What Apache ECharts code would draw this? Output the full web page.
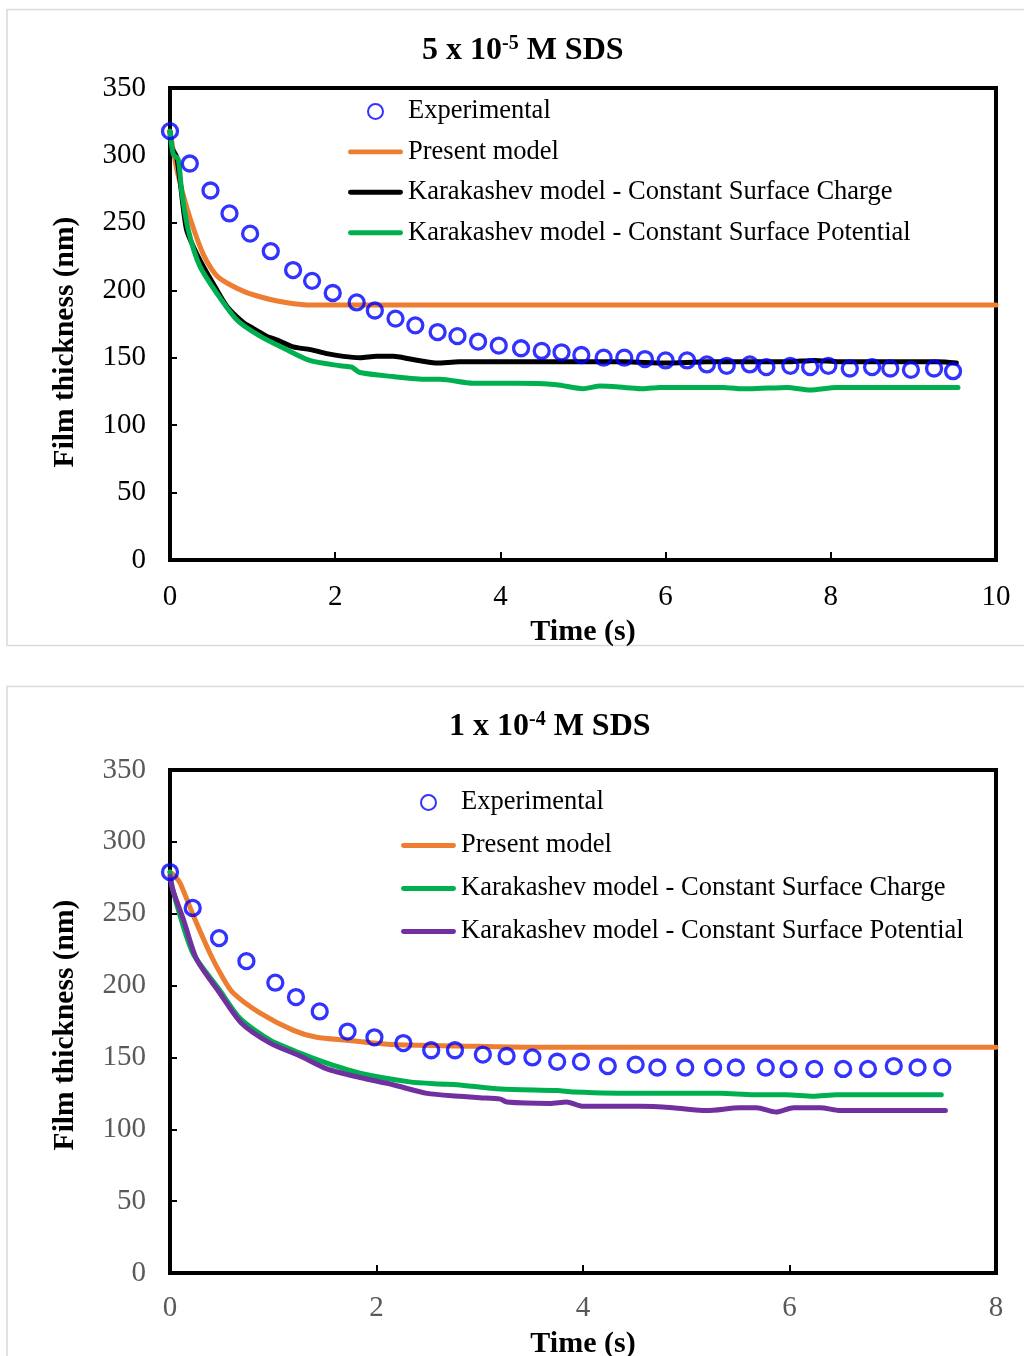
<!DOCTYPE html>
<html>
<head>
<meta charset="utf-8">
<script src="https://cdn.jsdelivr.net/npm/echarts@6/dist/echarts.min.js"></script>
<style>
  html, body { margin: 0; padding: 0; background: #fff; }
  #c1 { position: absolute; left: 0; top: 0; width: 1024px; height: 665px; }
  #c2 { position: absolute; left: 0; top: 665px; width: 1024px; height: 691px; }
</style>
</head>
<body>
<div id="c1"></div>
<div id="c2"></div>
<script>
// ---- 5 x 10^-5 M SDS ----
const expTimeA = [0,0.24,0.49,0.72,0.97,1.22,1.49,1.72,1.97,2.26,2.48,2.73,2.97,3.24,3.48,3.73,3.98,4.25,4.5,4.74,4.98,5.25,5.5,5.75,6.0,6.26,6.5,6.74,7.02,7.22,7.51,7.75,7.97,8.23,8.5,8.72,8.97,9.25,9.48];
const expThickA = [318,294,274,257,242,229,215,207,198,191,185,179,174,169,166,162,159,157,155,154,152,150,150,149,148,148,145,144,145,143,144,143,144,142,143,142,141,142,140];

const presTimeA = [0,0.05,0.1,0.2,0.3,0.4,0.5,0.58,0.7,0.9,1.1,1.3,1.5,1.7,2,4,6,8,10];
const presThickA = [318,300,285,262,243,227,216,210,205,199,195,192,190,189,189,189,189,189,189];

const chargeTimeA = [0,0.02,0.08,0.12,0.2,0.3,0.4,0.55,0.69,0.89,1.0,1.17,1.3,1.49,1.7,1.9,2.1,2.3,2.5,2.7,2.91,3.1,3.23,3.5,3.8,4.2,4.6,5.0,5.5,6.0,6.5,7.0,7.5,7.8,8.1,8.5,9.0,9.3,9.52];
const chargeThickA = [318,306,299,282,245,230,218,202,188,176,172,166,163,158,156,153,151,150,151,151,149,147,146,147,147,147,147,147,147,146,147,147,147,148,147,147,147,147,146];

const potTimeA = [0,0.04,0.1,0.14,0.22,0.36,0.565,0.81,1.09,1.41,1.69,2.06,2.2,2.3,2.7,3.11,3.27,3.67,4.2,4.68,5.0,5.21,5.5,5.73,5.93,6.3,6.7,6.9,7.02,7.47,7.75,8.07,8.68,9.54];
const potThickA = [318,301,297,274,245,218,198,178,166,156,148,144,143,139,136,134,134,131,131,130,127,129,128,127,128,128,128,127,127,128,126,128,128,128];

// ---- 1 x 10^-4 M SDS ----
const expTimeB = [0,0.22,0.475,0.74,1.02,1.22,1.45,1.72,1.98,2.26,2.53,2.76,3.03,3.26,3.51,3.75,3.98,4.24,4.51,4.72,4.99,5.26,5.48,5.77,5.99,6.24,6.52,6.76,7.01,7.24,7.48];
const expThickB = [279,254,233,217,202,192,182,168,164,160,155,155,152,151,150,147,147,144,145,143,143,143,143,143,142,142,142,142,144,143,143];

const presTimeB = [0,0.05,0.1,0.23,0.39,0.5,0.61,0.87,1.19,1.42,1.71,2.16,2.8,3.5,5,8];
const presThickB = [279,276,271,248,222,207,195,181,169,164,162,159,158,157,157,157];

const chargeTimeB = [0,0.02,0.1,0.226,0.48,0.68,0.97,1.26,1.52,1.84,2.32,2.61,2.78,3.2,3.75,3.91,4.55,5.33,5.65,5.97,6.23,6.46,7.47];
const chargeThickB = [279,269,248,222,197,177,162,153,146,139,133,131.5,131,128,127,126,125,125,124,124,123,124,124];

const potTimeB = [0,0.03,0.13,0.26,0.48,0.69,0.97,1.26,1.52,1.84,2.16,2.49,2.81,3.0,3.2,3.26,3.68,3.84,4.0,4.55,4.87,5.2,5.52,5.68,5.87,6.04,6.3,6.49,6.88,7.51];
const potThickB = [276,266,246,218,195,174,160,151,142,136,131,125,123,122,121,119,118,119,116,116,115,113,115,115,112,115,115,113,113,113];

const yTicks = [0, 50, 100, 150, 200, 250, 300, 350];
const legendNames = ['Experimental', 'Present model', 'Karakashev model - Constant Surface Charge', 'Karakashev model - Constant Surface Potential'];

const SERIF = "'Liberation Serif', 'Times New Roman', serif";
const LINE_ICON = 'path://M2,0 L53,0 A2.5,2.5 0 0 1 53,5 L2,5 A2.5,2.5 0 0 1 2,0 Z';
const zip = (a, b) => a.map((t, i) => [t, b[i]]);

function lineSeries(name, t, v, color) {
  return {
    name, type: 'line', data: zip(t, v), showSymbol: false, symbol: 'none',
    smooth: 0.25, lineStyle: { color, width: 5, cap: 'round', join: 'round' },
    itemStyle: { color }, z: 2
  };
}
function expSeries(t, v) {
  return {
    name: 'Experimental', type: 'scatter', data: zip(t, v), symbol: 'circle', symbolSize: 15,
    itemStyle: { color: 'rgba(0,0,0,0)', borderColor: '#0000FF', borderWidth: 3.3 }, z: 5
  };
}

function buildOption(cfg) {
  return {
    animation: false,
    backgroundColor: '#fff',
    title: {
      text: '{b|' + cfg.titleA + '}{s|' + cfg.titleExp + '}{b|' + cfg.titleB + '}',
      left: cfg.titleLeft, top: cfg.titleTop, padding: 0,
      textStyle: {
        rich: {
          b: { fontFamily: SERIF, fontWeight: 'bold', fontSize: 32, color: '#000', lineHeight: 34, verticalAlign: 'bottom' },
          s: { fontFamily: SERIF, fontWeight: 'bold', fontSize: 20, color: '#000', lineHeight: 34, verticalAlign: 'top', padding: [1, 0, 0, 0] }
        }
      }
    },
    legend: {
      orient: 'vertical', left: cfg.legendLeft, top: cfg.legendTop, padding: 0,
      itemWidth: 55, itemHeight: 15, itemGap: cfg.legendGap,
      textStyle: { fontFamily: SERIF, fontSize: 26.5, color: '#000', lineHeight: 26 },
      data: legendNames.map((n, i) => (i === 0 ? { name: n, icon: 'circle' } : { name: n, icon: LINE_ICON }))
    },
    grid: {
      left: 170, top: cfg.gridTop, width: 826, height: cfg.gridHeight,
      outerBoundsMode: 'none', containLabel: false,
      show: true, borderColor: '#000', borderWidth: 4, backgroundColor: 'transparent'
    },
    xAxis: {
      type: 'value', min: 0, max: cfg.xMax, interval: 2,
      name: 'Time (s)', nameLocation: 'middle', nameGap: cfg.xNameGap,
      nameTextStyle: { fontFamily: SERIF, fontWeight: 'bold', fontSize: 30, color: '#000' },
      axisLine: { show: false },
      axisTick: { show: true, inside: true, length: 8, lineStyle: { color: '#000', width: 2 } },
      axisLabel: { fontFamily: SERIF, fontSize: 29, color: cfg.labelColor, margin: cfg.xLabelMargin },
      splitLine: { show: false }
    },
    yAxis: {
      type: 'value', min: yTicks[0], max: yTicks[yTicks.length - 1], interval: 50,
      axisLine: { show: false },
      axisTick: { show: true, inside: true, length: 7, lineStyle: { color: '#000', width: 2 } },
      axisLabel: { fontFamily: SERIF, fontSize: 29, color: cfg.labelColor, margin: 24 },
      splitLine: { show: false }
    },
    graphic: [
      {
        type: 'rect', silent: true, z: -10,
        shape: { x: 7, y: cfg.panelTop, width: 1040, height: cfg.panelHeight },
        style: { fill: '#fff', stroke: '#d9d9d9', lineWidth: 1.5 }
      },
      {
        type: 'text', x: 65, y: cfg.yNameY, rotation: Math.PI / 2,
        style: {
          text: 'Film thickness (nm)', fontFamily: SERIF, fontWeight: 'bold', fontSize: 29.5,
          fill: '#000', textAlign: 'center', textVerticalAlign: 'middle'
        }
      }
    ],
    series: cfg.series
  };
}

const chartA = echarts.init(document.getElementById('c1'));
chartA.setOption(buildOption({
  titleA: '5 x 10', titleExp: '-5', titleB: ' M SDS', titleLeft: 422, titleTop: 33,
  legendLeft: 348, legendTop: 98, legendGap: 13.4,
  gridTop: 88, gridHeight: 472, xMax: 10, xNameGap: 45, xLabelMargin: 23,
  labelColor: '#000', panelTop: 9.5, panelHeight: 636, yNameY: 342,
  series: [
    lineSeries('Present model', presTimeA, presThickA, '#ED7D31'),
    lineSeries('Karakashev model - Constant Surface Charge', chargeTimeA, chargeThickA, '#000000'),
    lineSeries('Karakashev model - Constant Surface Potential', potTimeA, potThickA, '#00B050'),
    expSeries(expTimeA, expThickA)
  ]
}));

const chartB = echarts.init(document.getElementById('c2'));
chartB.setOption(buildOption({
  titleA: '1 x 10', titleExp: '-4', titleB: ' M SDS', titleLeft: 449, titleTop: 44,
  legendLeft: 401, legendTop: 124, legendGap: 16,
  gridTop: 105, gridHeight: 503, xMax: 8, xNameGap: 56, xLabelMargin: 21,
  labelColor: '#595959', panelTop: 21.5, panelHeight: 700, yNameY: 360,
  series: [
    lineSeries('Present model', presTimeB, presThickB, '#ED7D31'),
    lineSeries('Karakashev model - Constant Surface Charge', chargeTimeB, chargeThickB, '#00B050'),
    lineSeries('Karakashev model - Constant Surface Potential', potTimeB, potThickB, '#7030A0'),
    expSeries(expTimeB, expThickB)
  ]
}));
</script>
</body>
</html>
